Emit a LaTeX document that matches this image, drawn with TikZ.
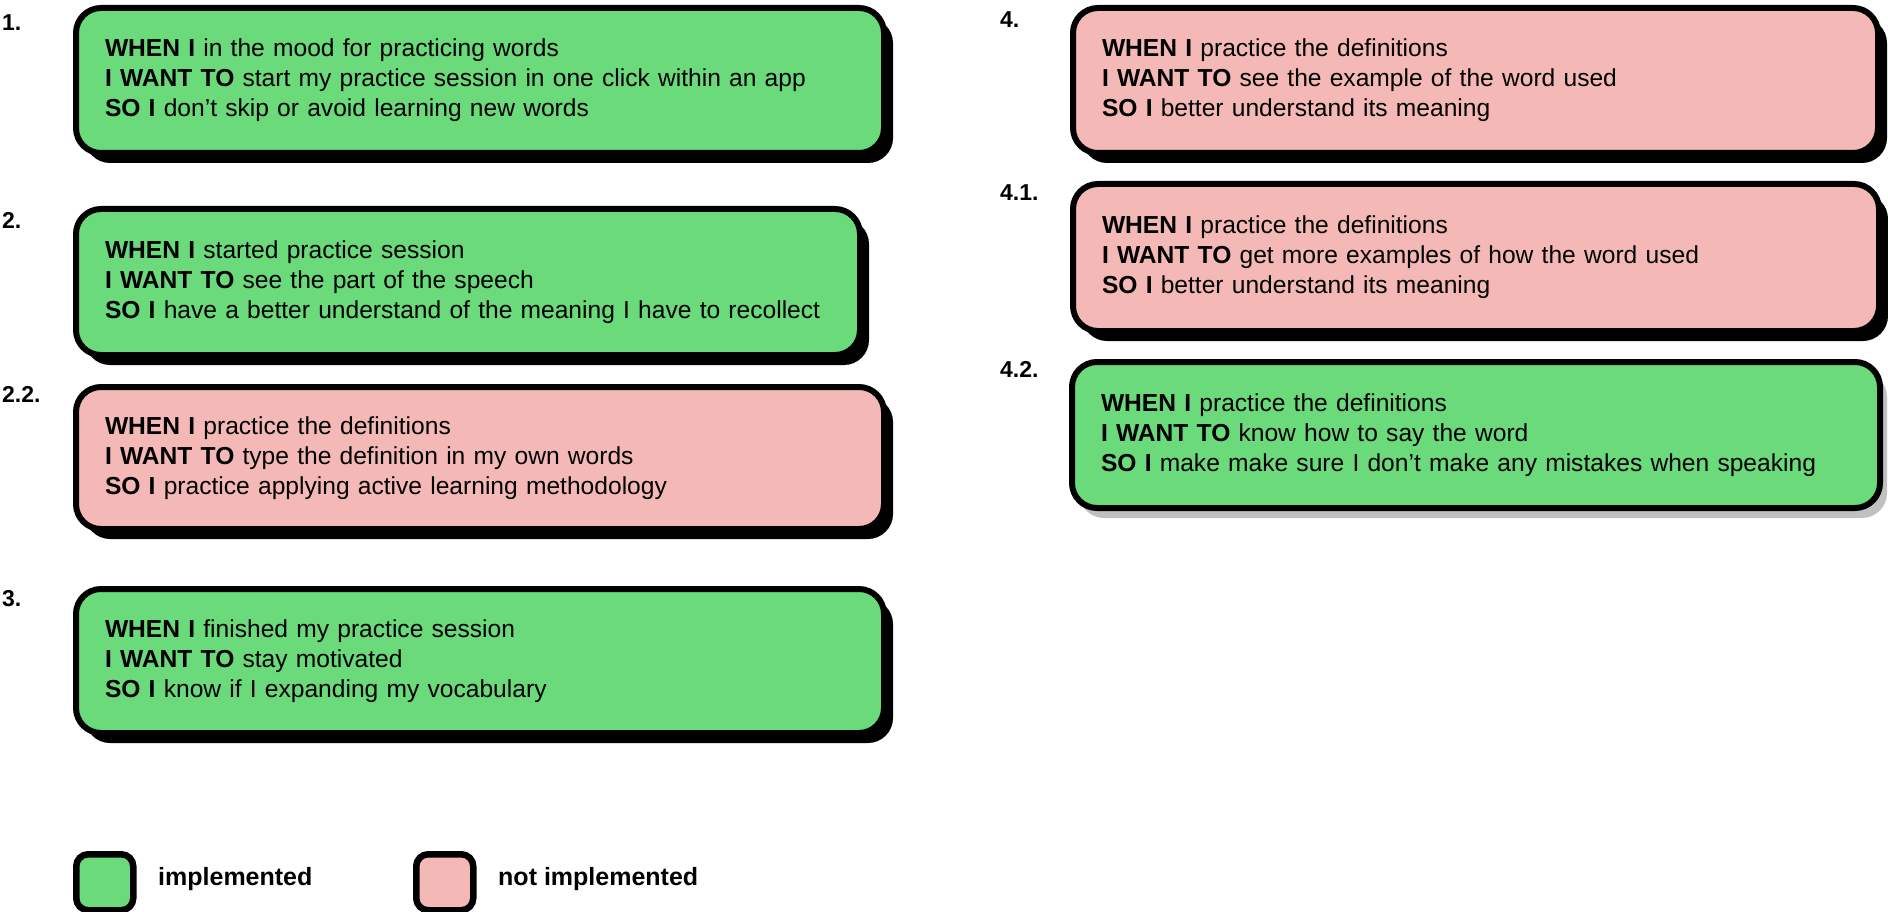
\documentclass[tikz,border=0pt]{standalone}
\usepackage{fontspec}
\setmainfont{Liberation Sans}
\usetikzlibrary{shadows}
\definecolor{cgreen}{RGB}{106,218,122}
\definecolor{cpink}{RGB}{244,185,183}
\definecolor{cgrey}{RGB}{192,192,192}
\newcommand\cardline[2]{\mbox{\textbf{#1} #2}}
\begin{document}
\begin{tikzpicture}[x=1pt,y=-1pt,
  card/.style={draw=black, line width=6pt, rounded corners=25pt, anchor=north west,
    inner xsep=29pt, inner ysep=0pt, align=left, font=\fontsize{24.6}{30}\selectfont},
  blkshadow/.style={drop shadow={shadow xshift=9pt, shadow yshift=-10pt, fill=black, opacity=1}},
  gryshadow/.style={drop shadow={shadow xshift=7pt, shadow yshift=-10pt, fill=cgrey, opacity=1}},
  yes/.style={card, fill=cgreen},
  no/.style={card, fill=cpink},
  lbl/.style={anchor=north west, inner sep=0pt, font=\fontsize{23}{23}\selectfont\bfseries},
  legbox/.style={draw=black, line width=6.5pt, rounded corners=12pt, anchor=north west,
    minimum width=57pt, minimum height=56pt, inner sep=0pt},
  legtxt/.style={anchor=west, inner sep=0pt, font=\fontsize{25}{25}\selectfont\bfseries}
]
\useasboundingbox (0,0) rectangle (1888,912);

% left column
\node[yes, blkshadow, text width=750pt, minimum height=145pt] (c1) at (73,5)
  {\cardline{WHEN I}{in the mood for practicing words}\\
   \cardline{I WANT TO}{start my practice session in one click within an app}\\
   \cardline{SO I}{don’t skip or avoid learning new words}};
\node[lbl] (l1) at (2,14) {1.};

\node[yes, blkshadow, text width=726pt, minimum height=146pt] (c2) at (73,206)
  {\cardline{WHEN I}{started practice session}\\
   \cardline{I WANT TO}{see the part of the speech}\\
   \cardline{SO I}{have a better understand of the meaning I have to recollect}};
\node[lbl] (l2) at (2,212) {2.};

\node[no, blkshadow, text width=750pt, minimum height=142pt] (c22) at (73,384)
  {\cardline{WHEN I}{practice the definitions}\\
   \cardline{I WANT TO}{type the definition in my own words}\\
   \cardline{SO I}{practice applying active learning methodology}};
\node[lbl] (l22) at (2,386) {2.2.};

\node[yes, blkshadow, text width=750pt, minimum height=144pt] (c3) at (73,586)
  {\cardline{WHEN I}{finished my practice session}\\
   \cardline{I WANT TO}{stay motivated}\\
   \cardline{SO I}{know if I expanding my vocabulary}};
\node[lbl] (l3) at (2,590) {3.};

% right column
\node[no, blkshadow, text width=747pt, minimum height=145pt] (c4) at (1070,5)
  {\cardline{WHEN I}{practice the definitions}\\
   \cardline{I WANT TO}{see the example of the word used}\\
   \cardline{SO I}{better understand its meaning}};
\node[lbl] (l4) at (1000,11) {4.};

\node[no, blkshadow, text width=748pt, minimum height=147pt] (c41) at (1070,181)
  {\cardline{WHEN I}{practice the definitions}\\
   \cardline{I WANT TO}{get more examples of how the word used}\\
   \cardline{SO I}{better understand its meaning}};
\node[lbl] (l41) at (1000,184) {4.1.};

\node[yes, gryshadow, text width=750pt, minimum height=146pt] (c42) at (1069,359)
  {\cardline{WHEN I}{practice the definitions}\\
   \cardline{I WANT TO}{know how to say the word}\\
   \cardline{SO I}{make make sure I don’t make any mistakes when speaking}};
\node[lbl] (l42) at (1000,361) {4.2.};

% legend
\node[legbox, fill=cgreen] (kg) at (73,851) {};
\node[legtxt] (tg) at (158,879) {implemented};
\node[legbox, fill=cpink] (kp) at (413,851) {};
\node[legtxt] (tp) at (498,879) {not implemented};
\end{tikzpicture}
\end{document}
